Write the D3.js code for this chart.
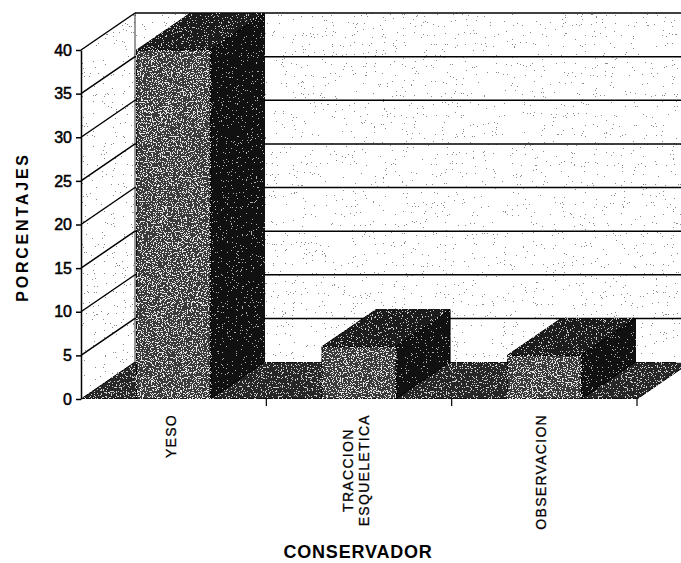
<!DOCTYPE html>
<html>
<head>
<meta charset="utf-8">
<script src="https://cdn.jsdelivr.net/npm/d3@7"></script>
<style>
  body { margin: 0; background: #fff; }
  svg { display: block; font-family: "Liberation Sans", Arial, sans-serif; }
</style>
</head>
<body>
<svg id="chart" width="681" height="563"></svg>
<script>
// data
const categories = ["YESO", "TRACCION ESQUELETICA", "OBSERVACION"];
const labelLines = [["YESO"], ["TRACCION", "ESQUELETICA"], ["OBSERVACION"]];
const values = [40, 6, 5];
const yTicks = [0, 5, 10, 15, 20, 25, 30, 35, 40];
const yTitle = "PORCENTAJES";
const xTitle = "CONSERVADOR";

const svg = d3.select("#chart");
const width = 681, height = 563;

// front edge of the floor and the oblique depth offset
const x0 = 81, x1 = 637;
const dx = 54, dy = -37;

const y = d3.scaleLinear().domain([0, 40]).range([399, 50]);
const x = d3.scaleBand()
  .domain(categories)
  .range([x0, x1])
  .paddingInner(0.6)
  .paddingOuter(0.3);

svg.append("rect").attr("width", width).attr("height", height).attr("fill", "#fff");

// scanned-paper speckle: turbulence thresholded into dots, clipped to the shape
const defs = svg.append("defs");
function speckle(id, color, cut, freq, seed) {
  const f = defs.append("filter").attr("id", id)
    .attr("x", 0).attr("y", 0).attr("width", 1).attr("height", 1)
    .attr("color-interpolation-filters", "sRGB");
  f.append("feTurbulence").attr("type", "fractalNoise")
    .attr("baseFrequency", freq).attr("numOctaves", 2).attr("seed", seed).attr("result", "n");
  const c = d3.color(color);
  f.append("feColorMatrix").attr("in", "n").attr("type", "matrix")
    .attr("values", `0 0 0 0 ${c.r / 255} 0 0 0 0 ${c.g / 255} 0 0 0 0 ${c.b / 255} 1 0 0 0 0`)
    .attr("result", "a");
  const table = d3.range(40).map(i => (i / 40 >= cut ? 1 : 0)).join(" ");
  f.append("feComponentTransfer").attr("in", "a").attr("result", "t")
    .append("feFuncA").attr("type", "discrete").attr("tableValues", table);
  f.append("feComposite").attr("in", "t").attr("in2", "SourceGraphic")
    .attr("operator", "in").attr("result", "d");
  const m = f.append("feMerge");
  m.append("feMergeNode").attr("in", "SourceGraphic");
  m.append("feMergeNode").attr("in", "d");
}
speckle("wall", "#8a8a8a", 0.75, 0.9, 3);
speckle("front", "#e4e4e4", 0.57, 0.8, 5);
speckle("top", "#c8c8c8", 0.63, 0.8, 7);
speckle("side", "#b0b0b0", 0.68, 0.8, 9);
speckle("floor", "#cccccc", 0.62, 0.8, 11);

const poly = pts => "M" + pts.map(p => p.join(",")).join("L") + "Z";
const Y0 = y(0), Y40 = y(40);

// walls
svg.append("path")
  .attr("d", poly([[x0, Y0], [x0, Y40], [x0 + dx, Y40 + dy], [x0 + dx, Y0 + dy]]))
  .attr("fill", "#fff").attr("filter", "url(#wall)");
svg.append("path")
  .attr("d", poly([[x0 + dx, Y0 + dy], [x0 + dx, Y40 + dy], [x1 + dx, Y40 + dy], [x1 + dx, Y0 + dy]]))
  .attr("fill", "#fff").attr("filter", "url(#wall)");

// gridlines on side and back walls
const grid = svg.append("g").attr("stroke", "#000").attr("stroke-width", 1.5);
grid.selectAll(".side-grid")
  .data(yTicks.filter(d => d > 0))
  .join("line")
  .attr("class", "side-grid")
  .attr("x1", x0).attr("y1", d => y(d))
  .attr("x2", x0 + dx).attr("y2", d => y(d) + dy);
grid.selectAll(".back-grid")
  .data(yTicks.filter(d => d > 0))
  .join("line")
  .attr("class", "back-grid")
  .attr("x1", x0 + dx).attr("y1", d => y(d) + dy)
  .attr("x2", x1 + dx).attr("y2", d => y(d) + dy);
grid.append("line")
  .attr("x1", x0 + dx).attr("y1", Y0 + dy)
  .attr("x2", x0 + dx).attr("y2", Y40 + dy)
  .attr("stroke-width", 0.8);

// floor
svg.append("path")
  .attr("d", poly([[x0, Y0], [x1, Y0], [x1 + dx, Y0 + dy], [x0 + dx, Y0 + dy]]))
  .attr("fill", "#262626").attr("stroke", "#000").attr("filter", "url(#floor)");

// category ticks on the floor front edge
svg.append("g").selectAll("line")
  .data(d3.range(1, categories.length + 1))
  .join("line")
  .attr("x1", i => x0 + i * x.step()).attr("x2", i => x0 + i * x.step())
  .attr("y1", Y0).attr("y2", Y0 + 7)
  .attr("stroke", "#000").attr("stroke-width", 1.2);

// 3D bars
const bw = x.bandwidth();
const bars = svg.append("g").selectAll("g")
  .data(categories.map((c, i) => ({ c, v: values[i] })))
  .join("g");
bars.append("path")
  .attr("d", d => {
    const bx = x(d.c) + bw, t = y(d.v);
    return poly([[bx, t], [bx + dx, t + dy], [bx + dx, Y0 + dy], [bx, Y0]]);
  })
  .attr("fill", "#111").attr("stroke", "#000").attr("filter", "url(#side)");
bars.append("path")
  .attr("d", d => {
    const bx = x(d.c), t = y(d.v);
    return poly([[bx, t], [bx + bw, t], [bx + bw + dx, t + dy], [bx + dx, t + dy]]);
  })
  .attr("fill", "#1c1c1c").attr("stroke", "#000").attr("filter", "url(#top)");
bars.append("path")
  .attr("d", d => {
    const bx = x(d.c), t = y(d.v);
    return poly([[bx, t], [bx + bw, t], [bx + bw, Y0], [bx, Y0]]);
  })
  .attr("fill", "#3a3a3a").attr("stroke", "#000").attr("filter", "url(#front)");

// value axis
svg.append("g")
  .attr("transform", `translate(${x0},0)`)
  .call(d3.axisLeft(y).tickValues(yTicks).tickSize(5).tickSizeOuter(0).tickPadding(4))
  .call(g => g.selectAll("path, line").attr("stroke", "#000").attr("stroke-width", 1.5))
  .call(g => g.selectAll("text")
    .attr("fill", "#000")
    .attr("stroke", "#000")
    .attr("stroke-width", 0.5)
    .style("font-size", "16px")
    .style("font-family", "'Liberation Sans', Arial, sans-serif"));

// category labels, rotated, top aligned under the floor
const labelTop = 414;
labelLines.forEach((lines, i) => {
  const cx = x(categories[i]) + bw / 2 - 3;
  const g = svg.append("g");
  const texts = g.selectAll("text")
    .data(lines)
    .join("text")
    .attr("text-anchor", "middle")
    .attr("dy", "0.35em")
    .style("font-size", "14px")
    .style("letter-spacing", "1.3px")
    .attr("fill", "#000")
    .attr("stroke", "#000")
    .attr("stroke-width", 0.3)
    .text(d => d);
  const len = d3.max(texts.nodes(), n => n.getComputedTextLength());
  texts.attr("transform", (d, j) => {
    const lx = cx + (j - (lines.length - 1) / 2) * 16;
    return `translate(${lx},${labelTop + len / 2}) rotate(-90)`;
  });
});

// axis titles
svg.append("text")
  .attr("transform", "translate(22,227) rotate(-90)")
  .attr("text-anchor", "middle")
  .attr("dy", "0.35em")
  .style("font-size", "16px")
  .style("font-weight", "bold")
  .style("letter-spacing", "2.8px")
  .text(yTitle);

svg.append("text")
  .attr("x", 358).attr("y", 558)
  .attr("text-anchor", "middle")
  .style("font-size", "18px")
  .style("font-weight", "bold")
  .style("letter-spacing", "0.8px")
  .text(xTitle);
</script>
</body>
</html>
